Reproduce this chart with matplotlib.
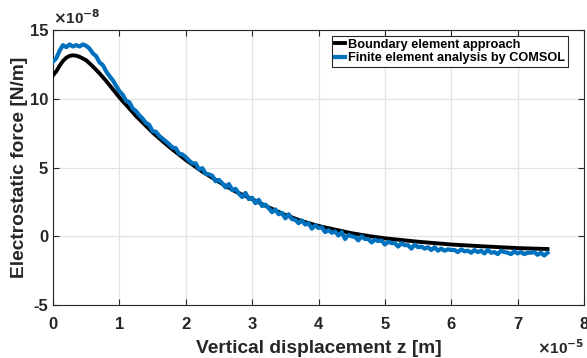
import matplotlib
matplotlib.use("Agg")
import matplotlib.pyplot as plt

# x in units of 1e-5 m, force in units of 1e-8 N/m
bem_z = [0, 0.05, 0.1, 0.15, 0.2, 0.25, 0.3, 0.35, 0.4, 0.5, 0.6, 0.7, 0.8, 0.9, 1.0,
         1.25, 1.5, 1.75, 2.0, 2.25, 2.5, 2.75, 3.0, 3.25, 3.5, 3.75, 4.0, 4.25, 4.5,
         4.75, 5.0, 5.5, 6.0, 6.5, 7.0, 7.45]
bem_f = [11.7, 12.0, 12.4, 12.75, 12.98, 13.12, 13.16, 13.13, 13.05, 12.8, 12.35, 11.85,
         11.3, 10.7, 10.1, 8.75, 7.55, 6.5, 5.55, 4.7, 3.95, 3.25, 2.7, 2.1, 1.55, 1.1,
         0.75, 0.48, 0.22, 0.02, -0.15, -0.4, -0.6, -0.74, -0.86, -0.93]

fem_z = [i * 0.05 for i in range(150)]
fem_f = [12.7, 12.95, 13.5, 13.9, 13.75, 13.95, 13.8, 13.9, 13.8, 13.95,
         13.85, 13.65, 13.3, 13.1, 12.65, 12.45, 12.0, 11.65, 11.35, 10.95,
         10.55, 10.3, 9.85, 9.75, 9.3, 9.1, 8.8, 8.55, 8.25, 8.1,
         7.65, 7.6, 7.3, 7.1, 6.9, 6.7, 6.45, 6.4, 6.0, 5.95,
         5.75, 5.5, 5.3, 5.3, 4.85, 4.95, 4.55, 4.5, 4.4, 4.0,
         4.1, 3.85, 3.55, 3.8, 3.35, 3.45, 3.1, 2.85, 3.15, 2.7,
         2.8, 2.4, 2.65, 2.2, 2.3, 2.05, 1.75, 1.95, 1.6, 1.7,
         1.3, 1.6, 1.25, 1.2, 0.95, 1.15, 0.85, 0.95, 0.55, 0.8,
         0.6, 0.65, 0.3, 0.45, 0.25, 0.35, 0.05, 0.3, -0.2, 0.1,
         0.0, -0.05, -0.3, 0.0, -0.2, -0.2, -0.45, -0.25, -0.35, -0.3,
         -0.6, -0.4, -0.5, -0.5, -0.75, -0.5, -0.65, -0.65, -0.9, -0.6,
         -0.8, -0.75, -0.9, -0.8, -1.0, -0.8, -1.05, -0.9, -1.05, -0.95,
         -1.0, -1.0, -1.15, -0.95, -1.1, -1.05, -1.2, -1.0, -1.15, -1.05,
         -1.25, -1.0, -1.2, -1.15, -1.3, -1.05, -1.15, -1.2, -1.3, -1.1,
         -1.25, -1.15, -1.3, -1.2, -1.2, -1.15, -1.35, -1.2, -1.4, -1.2]

x_ticks = [0, 1, 2, 3, 4, 5, 6, 7, 8]
y_ticks = [-5, 0, 5, 10, 15]

plt.rcParams['font.family'] = ['Liberation Sans', 'DejaVu Sans']
plt.rcParams['font.weight'] = 'bold'
plt.rcParams['axes.unicode_minus'] = False

fig = plt.figure(figsize=(5.87, 3.58), dpi=100)
ax = fig.add_axes([53 / 587, 1 - 305 / 358, 531 / 587, 275 / 358])

ax.plot(bem_z, bem_f, color='black', lw=2.8, label='Boundary element approach', zorder=3)
ax.plot(fem_z, fem_f, color='#0072BD', lw=3.0, label='Finite element analysis by COMSOL', zorder=4)

ax.set_xlim(0, 8)
ax.set_ylim(-5, 15)
ax.set_xticks(x_ticks)
ax.set_yticks(y_ticks)
ax.grid(True, color='#e3e3e3', lw=0.9, zorder=0)
ax.tick_params(direction='in', length=4, width=0.8, top=True, right=True,
               labelsize=12, colors='#262626')
ax.tick_params(axis='x', pad=8.5)
ax.tick_params(axis='y', pad=3.5)
for lab in ax.get_xticklabels() + ax.get_yticklabels():
    lab.set_fontweight('bold')
for s in ax.spines.values():
    s.set_color('#262626')
    s.set_linewidth(0.8)

ax.set_xlabel('Vertical displacement z [m]', fontsize=13.8, fontweight='bold',
              color='#262626', labelpad=6)
ax.set_ylabel('Electrostatic force [N/m]', fontsize=13.8, fontweight='bold',
              color='#262626', labelpad=1)

ax.text(0, 1.01, r'$\times$10$^{\mathbf{-8}}$', transform=ax.transAxes, fontsize=11,
        color='#262626', ha='left', va='bottom')
fig.text(584 / 587, 1 / 358, r'$\times$10$^{\mathbf{-5}}$', fontsize=11,
         color='#262626', ha='right', va='bottom')

leg = ax.legend(loc='upper right', bbox_to_anchor=(0.97, 0.98), fontsize=9.2,
                handlelength=0.8, handletextpad=0.2, borderpad=0.25,
                labelspacing=0.1, fancybox=False, framealpha=1, borderaxespad=0)
leg.get_frame().set_edgecolor('#262626')
leg.get_frame().set_linewidth(0.8)
for t in leg.get_texts():
    t.set_fontweight('bold')

fig.savefig('out.png', dpi=100)
